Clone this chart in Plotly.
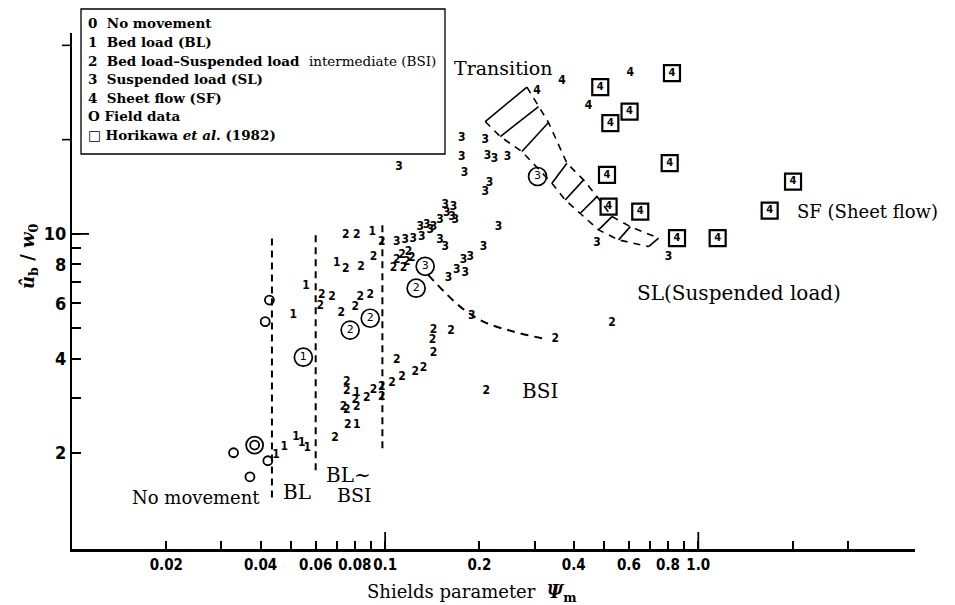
import plotly.graph_objects as go

# ---- observations: Shields parameter (x) vs. u_b / w_0 (y) -------------
# 1  Bed load (BL)
bl_x = [0.0909, 0.0701, 0.0559, 0.0509, 0.0448, 0.0476, 0.0519, 0.0542, 0.0564, 0.0812, 0.0812]
bl_y = [10.15, 8.06, 6.82, 5.51, 1.967, 2.091, 2.251, 2.145, 2.067, 3.097, 2.454]

# 2  Bed load - suspended load intermediate (BSI)
bsi_x = [0.0749, 0.0812, 0.0976, 0.1063, 0.1144, 0.1090, 0.1131, 0.1187, 0.1173, 0.1217,
         0.0749, 0.0838, 0.0918, 0.0628, 0.0676, 0.0620, 0.0832, 0.0896, 0.0802, 0.0724,
         0.1427, 0.1622, 0.1416, 0.1427, 0.1090, 0.1247, 0.1326, 0.1131,
         0.0754, 0.0754, 0.0874, 0.0918, 0.0976, 0.0976, 0.1051, 0.0736, 0.0802, 0.0812, 0.0754, 0.0760,
         0.0692, 0.349, 0.530, 0.2103]
bsi_y = [9.93, 9.93, 9.45, 7.77, 7.77, 8.26, 8.57, 8.78, 8.16, 8.36,
         7.71, 7.83, 8.46, 6.38, 6.30, 5.89, 6.30, 6.38, 5.86, 5.61,
         4.93, 4.91, 4.58, 4.16, 3.96, 3.63, 3.72, 3.50,
         3.37, 3.14, 2.99, 3.17, 3.25, 3.02, 3.33, 2.81, 2.95, 2.81, 2.74, 2.454,
         2.225, 4.61, 5.19, 3.14]

# 3  Suspended load (SL)
sl_x = [0.1090, 0.1159, 0.1229, 0.1310, 0.1393, 0.1294, 0.1359, 0.1427, 0.1498, 0.1574, 0.1653, 0.1555,
        0.1634, 0.1555, 0.1498, 0.1674,
        0.2087, 0.2061, 0.1869, 0.1779, 0.1801, 0.1694, 0.1593, 0.1892,
        0.1758, 0.1758, 0.1792, 0.2087, 0.2123, 0.2235, 0.2459, 0.2154, 0.2301, 0.4747, 0.804, 0.1108]
sl_y = [9.45, 9.57, 9.64, 9.80, 10.30, 10.55, 10.69, 10.55, 11.08, 11.67, 12.23, 12.38,
        11.36, 9.11, 9.57, 11.08,
        13.57, 9.11, 8.46, 8.26, 7.49, 7.67, 7.22, 5.47,
        20.22, 17.66, 15.63, 19.97, 17.75, 17.33, 17.66, 14.58, 10.55, 9.34, 8.46, 16.37]

# 4  Sheet flow (SF)
sf_x = [0.3669, 0.3053, 0.6065, 0.4461]
sf_y = [30.67, 28.70, 32.76, 25.64]

# Horikawa et al. (1982), sheet flow
hk_x = [0.4863, 0.824, 0.6033, 0.5237, 0.8103, 0.5110, 0.5170, 0.6525, 0.8551, 1.153, 1.690, 2.007]
hk_y = [29.43, 32.62, 24.59, 22.58, 16.82, 15.44, 12.23, 11.78, 9.69, 9.69, 11.87, 14.69]

# Field data: no movement, and classified field runs
field_x = [0.0427, 0.0414, 0.0328, 0.0422, 0.0370]
field_y = [6.15, 5.25, 2.001, 1.887, 1.677]
field_double_x = [0.0383]
field_double_y = [2.118]
circled_x = [0.0548, 0.0896, 0.0773, 0.1256, 0.1342, 0.3067]
circled_y = [4.04, 5.38, 4.93, 6.71, 7.88, 15.25]
circled_label = ["1", "2", "2", "2", "3", "3"]

# ---- regime boundaries --------------------------------------------------
bound_x = [0.0435, 0.06, 0.098]
bound_lo = [1.44, 1.76, 2.07]
bound_hi = [9.78, 9.93, 10.8]

sl_bsi_x = [0.1372, 0.1736, 0.2056, 0.2564, 0.3245]
sl_bsi_y = [7.40, 5.86, 5.25, 4.88, 4.62]

trans_lo_x = [0.2087, 0.2331, 0.2734, 0.3408, 0.3759, 0.4198, 0.4803, 0.5564, 0.6939]
trans_lo_y = [22.85, 20.46, 18.32, 14.52, 12.84, 11.64, 10.30, 9.57, 9.11]
trans_hi_x = [0.2836, 0.3089, 0.3324, 0.3806, 0.4301, 0.4747, 0.530, 0.6065, 0.7467]
trans_hi_y = [29.43, 25.51, 22.68, 16.82, 14.88, 13.16, 11.36, 10.55, 9.69]

# ---- axis ticks ---------------------------------------------------------
x_ticks = [0.02, 0.04, 0.06, 0.08, 0.1, 0.2, 0.4, 0.6, 0.8, 1.0]
x_labels = ["0.02", "0.04", "0.06", "0.08", "0.1", "0.2", "0.4", "0.6", "0.8", "1.0"]
x_minor = [0.03, 0.05, 0.07, 0.09, 0.3, 0.5, 0.7, 0.9, 2, 3]
y_ticks = [2, 4, 6, 8, 10]
y_labels = ["2", "4", "6", "8", "10"]
y_minor = [3, 5, 7, 9]
x_long = [0.1, 1.0]
y_long = [10]
y_upper = [20, 40]

legend_lines = [
    "0  No movement",
    "1  Bed load (BL)",
    "2  Bed load\u2013Suspended load  <span style='font-weight:normal'>intermediate (BSI)</span>",
    "3  Suspended load (SL)",
    "4  Sheet flow (SF)",
    "O Field data",
    "\u25a1 Horikawa <i>et al.</i> (1982)",
]

# ---- page geometry (pixels) ---------------------------------------------
W, H = 955, 605
L, R, T, B = 72, 915, 33, 549


def pxx(px):
    return (px - L) / (R - L)


def pxy(py):
    return (B - py) / (B - T)


COND = "DejaVu Sans Condensed, DejaVu Sans"
DIGIT = dict(family=COND, size=12, color="black", weight=700)
SERIF = "DejaVu Serif, Liberation Serif, serif"

fig = go.Figure()

# vertical regime boundaries (No movement / BL / BL~BSI / BSI)
vx, vy = [], []
for x, lo, hi in zip(bound_x, bound_lo, bound_hi):
    vx += [x, x, None]
    vy += [lo, hi, None]
fig.add_trace(go.Scatter(x=vx, y=vy, mode="lines",
                         line=dict(color="black", width=2, dash="7px,5px"), hoverinfo="skip"))

# SL / BSI boundary
fig.add_trace(go.Scatter(x=sl_bsi_x, y=sl_bsi_y, mode="lines",
                         line=dict(color="black", width=2, dash="8px,6px", shape="spline"),
                         hoverinfo="skip"))

# transition band: dashed edges and hatching rungs
fig.add_trace(go.Scatter(x=trans_lo_x, y=trans_lo_y, mode="lines",
                         line=dict(color="black", width=1.6, dash="7px,6px"), hoverinfo="skip"))
fig.add_trace(go.Scatter(x=trans_hi_x, y=trans_hi_y, mode="lines",
                         line=dict(color="black", width=1.6, dash="7px,6px"), hoverinfo="skip"))
rx, ry = [], []
for x0, y0, x1, y1 in zip(trans_lo_x, trans_lo_y, trans_hi_x, trans_hi_y):
    rx += [x0, x1, None]
    ry += [y0, y1, None]
fig.add_trace(go.Scatter(x=rx, y=ry, mode="lines",
                         line=dict(color="black", width=1.6), hoverinfo="skip"))

# numbered observations drawn as their regime digit
for xs, ys, d in [(bl_x, bl_y, "1"), (bsi_x, bsi_y, "2"), (sl_x, sl_y, "3"), (sf_x, sf_y, "4")]:
    fig.add_trace(go.Scatter(x=xs, y=ys, mode="text", text=[d] * len(xs),
                             textposition="middle center", textfont=DIGIT, hoverinfo="skip"))

# Horikawa et al. boxed 4
fig.add_trace(go.Scatter(x=hk_x, y=hk_y, mode="markers+text", text=["4"] * len(hk_x),
                         textposition="middle center",
                         textfont=dict(family=COND, size=11, color="black", weight=700),
                         marker=dict(symbol="square-open", size=16, color="black",
                                     line=dict(width=2.2, color="black")),
                         hoverinfo="skip"))

# field data
fig.add_trace(go.Scatter(x=field_x, y=field_y, mode="markers",
                         marker=dict(symbol="circle-open", size=9, color="black",
                                     line=dict(width=1.8, color="black")),
                         hoverinfo="skip"))
for s in (17, 9):
    fig.add_trace(go.Scatter(x=field_double_x, y=field_double_y, mode="markers",
                             marker=dict(symbol="circle-open", size=s, color="black",
                                         line=dict(width=1.8, color="black")),
                             hoverinfo="skip"))
fig.add_trace(go.Scatter(x=circled_x, y=circled_y, mode="markers+text", text=circled_label,
                         textposition="middle center",
                         textfont=dict(family="DejaVu Sans", size=11, color="black"),
                         marker=dict(symbol="circle-open", size=18, color="black",
                                     line=dict(width=1.7, color="black")),
                         hoverinfo="skip"))

shapes = []
# longer ticks at the decades (shape coordinates on log axes are data values here)
for v in x_long:
    shapes.append(dict(type="line", xref="x", yref="paper", x0=v, x1=v,
                       y0=0, y1=17 / (B - T), line=dict(color="black", width=1.8)))
for v in y_long:
    shapes.append(dict(type="line", xref="paper", yref="y", x0=0, x1=17 / (R - L),
                       y0=v, y1=v, line=dict(color="black", width=1.8)))
for v in y_upper:
    shapes.append(dict(type="line", xref="paper", yref="y", x0=-10 / (R - L), x1=0,
                       y0=v, y1=v, line=dict(color="black", width=1.6)))
# legend frame
shapes.append(dict(type="rect", xref="paper", yref="paper", x0=pxx(81), x1=pxx(445),
                   y0=pxy(154), y1=pxy(9), line=dict(color="black", width=1.3),
                   fillcolor="rgba(0,0,0,0)"))

annotations = []
for i, line in enumerate(legend_lines):
    annotations.append(dict(xref="paper", yref="paper", x=pxx(86), y=pxy(23.5 + i * 18.6),
                            xanchor="left", yanchor="middle", showarrow=False, text=line,
                            font=dict(family=SERIF, size=13.5, color="black", weight=700)))


def label(text, px, py, size=19, anchor="center"):
    annotations.append(dict(xref="paper", yref="paper", x=pxx(px), y=pxy(py),
                            xanchor=anchor, yanchor="middle", showarrow=False, text=text,
                            font=dict(family=SERIF, size=size, color="black")))


label("Transition", 503, 68)
label("SF (Sheet flow)", 795, 212, size=18, anchor="left")
label("SL(Suspended load)", 635, 293, size=20, anchor="left")
label("BSI", 540, 391, size=20)
label("No movement", 196, 497, size=18)
label("BL", 297, 492, size=20)
label("BL~", 373, 475, size=20, anchor="right")
label("BSI", 373, 495, size=19, anchor="right")

# axis titles
annotations.append(dict(xref="paper", yref="paper", x=pxx(29), y=pxy(256), textangle=-90,
                        xanchor="center", yanchor="middle", showarrow=False,
                        text="<b><i>\u00fb</i><sub>b</sub> / <i>w</i><sub>0</sub></b>",
                        font=dict(family=SERIF, size=18, color="black")))
annotations.append(dict(xref="paper", yref="paper", x=pxx(472), y=pxy(593),
                        xanchor="center", yanchor="middle", showarrow=False,
                        text="Shields parameter  <b><i>\u03a8</i><sub>m</sub></b>",
                        font=dict(family=SERIF, size=18, color="black")))

fig.update_layout(
    width=W, height=H,
    margin=dict(l=L, r=W - R, t=T, b=H - B),
    paper_bgcolor="white", plot_bgcolor="white",
    showlegend=False,
    shapes=shapes, annotations=annotations,
    xaxis=dict(type="log", range=[-2, 0.692], tickmode="array",
               tickvals=x_ticks, ticktext=x_labels, ticks="inside", ticklen=8,
               tickwidth=1.6, tickcolor="black", tickangle=0,
               minor=dict(tickmode="array", tickvals=x_minor, ticks="inside", ticklen=8,
                          tickwidth=1.6, tickcolor="black", showgrid=False),
               showline=True, linecolor="black", linewidth=2.5,
               showgrid=False, zeroline=False,
               tickfont=dict(family=COND, size=15, color="black", weight=700)),
    yaxis=dict(type="log", range=[-0.006, 1.6415], tickmode="array",
               tickvals=y_ticks, ticktext=y_labels, ticks="inside", ticklen=9,
               tickwidth=1.8, tickcolor="black",
               minor=dict(tickmode="array", tickvals=y_minor, ticks="inside", ticklen=9,
                          tickwidth=1.8, tickcolor="black", showgrid=False),
               showline=True, linecolor="black", linewidth=2.2,
               showgrid=False, zeroline=False,
               tickfont=dict(family=COND, size=18, color="black", weight=700)),
)

fig.write_html("out.html")
